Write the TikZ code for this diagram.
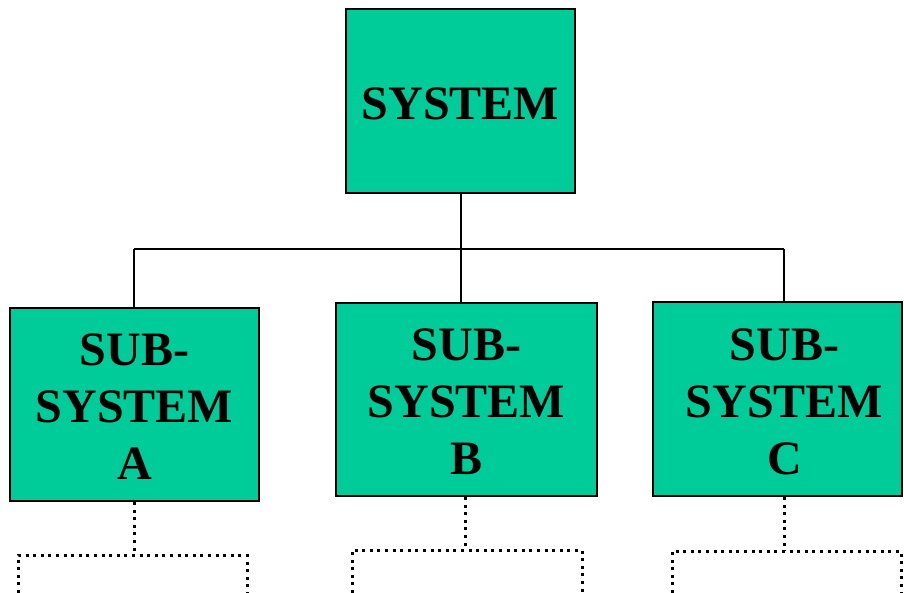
\documentclass[tikz,border=0pt]{standalone}
\usepackage{fontspec}
\setmainfont{Liberation Serif}
\definecolor{boxgreen}{HTML}{00CC99}
\begin{document}
\begin{tikzpicture}[x=1pt,y=1pt,
  sysbox/.style={draw=black,line width=2pt,fill=boxgreen,inner sep=0pt},
  boxtext/.style={inner sep=0pt,font=\fontsize{48}{57}\selectfont\bfseries,align=center},
  conn/.style={line width=2pt},
  dotline/.style={line width=3pt,dash pattern=on 3pt off 4.6pt}]
\useasboundingbox (0,0) rectangle (904,-593);
\node[sysbox,minimum width=229pt,minimum height=184pt] (sys) at (460.5,-101) {};
\node[sysbox,minimum width=249pt,minimum height=193pt] (A) at (134.5,-404.5) {};
\node[sysbox,minimum width=261pt,minimum height=193pt] (B) at (466.5,-399.5) {};
\node[sysbox,minimum width=249pt,minimum height=194pt] (C) at (777.5,-399) {};
\node[boxtext] (sysT) at (460.5,-103.5) {SYSTEM};
\node[boxtext] (AT) at (134.5,-407) {SUB-\\SYSTEM\\A};
\node[boxtext] (BT) at (466.5,-402) {SUB-\\SYSTEM\\B};
\node[boxtext] (CT) at (784.5,-401.5) {SUB-\\SYSTEM\\C};
\coordinate (busL) at (134,-249);
\coordinate (busR) at (784,-249);
\draw[conn] (busL) -- (busR);
\draw[conn] (sys.south) -- (sys.south |- B.north);
\draw[conn] (busL) -- (busL |- A.north);
\draw[conn] (busR) -- (busR |- C.north);
% dotted continuations
\coordinate (dA) at (134,-555);
\coordinate (dAl) at (18,-555);
\coordinate (dAr) at (247,-555);
\coordinate (dAlb) at (18,-593);
\coordinate (dArb) at (247,-593);
\draw[dotline] (A.south -| dA) -- (dA);
\draw[dotline] (dAlb) -- (dAl) -- (dAr) -- (dArb);
\coordinate (dB) at (465,-550);
\coordinate (dBl) at (352,-550);
\coordinate (dBr) at (582,-550);
\coordinate (dBlb) at (352,-593);
\coordinate (dBrb) at (582,-593);
\draw[dotline] (B.south -| dB) -- (dB);
\draw[dotline] (dBlb) -- (dBl) -- (dBr) -- (dBrb);
\coordinate (dC) at (784,-551);
\coordinate (dCl) at (672,-551);
\coordinate (dCr) at (901,-551);
\coordinate (dClb) at (672,-593);
\coordinate (dCrb) at (901,-593);
\draw[dotline] (C.south -| dC) -- (dC);
\draw[dotline] (dClb) -- (dCl) -- (dCr) -- (dCrb);
\end{tikzpicture}
\end{document}
